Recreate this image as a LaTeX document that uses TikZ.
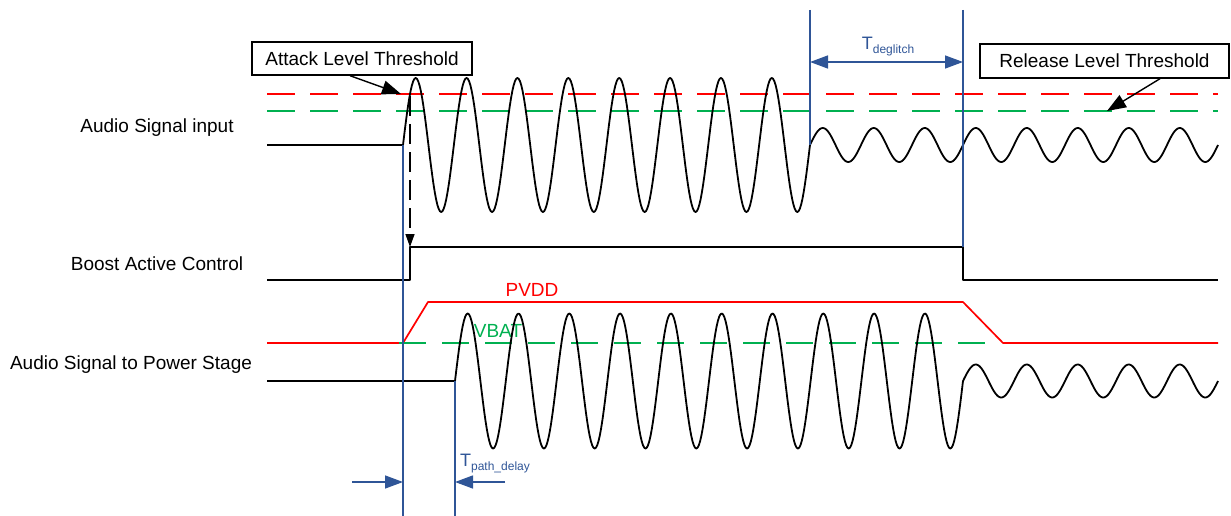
\documentclass[tikz,border=0pt]{standalone}
\usepackage{fontspec}
\setmainfont{Liberation Sans}
\usepackage{tikz}
\usetikzlibrary{positioning,arrows.meta}
\definecolor{dimblue}{RGB}{47,85,151}
\definecolor{thrred}{RGB}{255,0,0}
\definecolor{thrgreen}{RGB}{0,176,80}
\newcommand{\tlabel}[1]{{\fontsize{18}{20}\selectfont T}\raisebox{-4pt}{\fontsize{12}{14}\selectfont #1}}
\tikzset{
  % --- waveforms -------------------------------------------------------------
  sig/.style={black,line width=1.8pt,line join=round},
  rail/.style={thrred,line width=1.7pt,line join=round},
  atkthr/.style={thrred,line width=1.7pt,dash pattern=on 28pt off 15pt},
  relthr/.style={thrgreen,line width=1.7pt,dash pattern=on 28pt off 15pt},
  vbatthr/.style={thrgreen,line width=1.7pt,dash pattern=on 27pt off 16pt},
  % --- labels and call-outs ---------------------------------------------------
  lab/.style={font=\fontsize{19}{22}\selectfont,inner sep=1pt},
  callout/.style={lab,draw,line width=1.4pt,inner sep=0pt},
  callarr/.style={-{Triangle[length=19pt,width=14pt]},line width=1.4pt},
  trigarr/.style={-{Triangle[length=13pt,width=9pt]},line width=1.4pt,
                  dash pattern=on 20pt off 8pt},
  % --- timing marks -----------------------------------------------------------
  tline/.style={dimblue,line width=1.4pt},
  dimarr/.style={-{Triangle[length=18pt,width=13pt]},dimblue,line width=1.4pt},
  dimarrs/.style={{Triangle[length=18pt,width=13pt]}-{Triangle[length=18pt,width=13pt]},
                  dimblue,line width=1.4pt},
  dimlab/.style={text=dimblue,inner sep=0pt},
}

\begin{document}
\begin{tikzpicture}[x=1pt,y=-1pt]
  \useasboundingbox (0,0) rectangle (1231,516);

  % --- row labels -------------------------------------------------------
  \node[lab] (lin)    at (157,128) {Audio Signal input};
  \node[lab] (lboost) at (157,264) {Boost Active Control};
  \node[lab] (lout)   at (131,365) {Audio Signal to Power Stage};

  % --- attack / release levels -------------------------------------------
  \coordinate (atk0) at (267,94);  \coordinate (atk1) at (1218,94);
  \coordinate (rel0) at (267,111); \coordinate (rel1) at (1218,111);
  \draw[atkthr] (atk0) -- (atk1);
  \draw[relthr] (rel0) -- (rel1);

  % --- input: quiet, loud burst, then small tone ---------------------------
  \coordinate (in0) at (267,145);
  \coordinate (in1) at (403,145);
  \draw[sig] (in0) -- (in1)
    -- plot[domain=403:810,samples=321] (\x,{145-67*sin((\x-403)/50.875*360)})
    -- plot[domain=810:1218,samples=321] (\x,{145-17*sin((\x-810)/51*360)});

  % --- boost enable ------------------------------------------------------
  \coordinate (bst0) at (267,280);
  \coordinate (bst1) at (410,280);
  \coordinate (bst2) at (410,247);
  \coordinate (bst3) at (963,247);
  \coordinate (bst4) at (963,280);
  \coordinate (bst5) at (1218,280);
  \draw[sig] (bst0) -- (bst1) -- (bst2) -- (bst3) -- (bst4) -- (bst5);

  % --- supply rails --------------------------------------------------------
  \coordinate (pv0) at (267,343);
  \coordinate (pv1) at (403,343);
  \coordinate (pv2) at (428,302);
  \coordinate (pv3) at (963,302);
  \coordinate (pv4) at (1003,343);
  \coordinate (pv5) at (1218,343);
  \draw[rail] (pv0) -- (pv1) -- (pv2) -- (pv3) -- (pv4) -- (pv5);
  \coordinate (vb0) at (399,343);
  \coordinate (vb1) at (985,343);
  \draw[vbatthr] (vb0) -- (vb1);
  \node[lab,text=thrred]   (pvdd) at (532,290) {PVDD};
  \node[lab,text=thrgreen] (vbat) at (498,331) {VBAT};

  % --- output to power stage -------------------------------------------------
  \coordinate (out0) at (267,381);
  \coordinate (out1) at (455,381);
  \draw[sig] (out0) -- (out1)
    -- plot[domain=455:963,samples=401] (\x,{381-67.5*sin((\x-455)/50.8*360)})
    -- plot[domain=963:1218,samples=201] (\x,{381-16.5*sin((\x-963)/51*360)});

  % --- call-outs --------------------------------------------------------------
  \node[callout,minimum width=220pt,minimum height=33pt] (attack) at (362,58.5)
    {Attack Level Threshold};
  \node[callout,minimum width=249pt,minimum height=34pt] (release) at (1104.5,61)
    {Release Level Threshold};
  \coordinate (atkhit) at (401,94);
  \coordinate (relhit) at (1107,111);
  \draw[callarr] ([xshift=-12pt]attack.south) -- (atkhit);
  \draw[callarr] ([xshift=55.5pt]release.south) -- (relhit);

  % attack crossing sets boost active
  \coordinate (trig0) at (410,96);
  \draw[trigarr] (trig0) -- (bst2);

  % --- timing marks -----------------------------------------------------------
  \coordinate (tA0) at (403,145); \coordinate (tA1) at (403,516);
  \coordinate (tB0) at (455,381); \coordinate (tB1) at (455,516);
  \coordinate (tC0) at (810,10);  \coordinate (tC1) at (810,145);
  \coordinate (tD0) at (963,10);
  \draw[tline] (tA0) -- (tA1);
  \draw[tline] (tB0) -- (tB1);
  \draw[tline] (tC0) -- (tC1);
  \draw[tline] (tD0) -- (bst3);

  % deglitch window
  \coordinate (dgL) at (810,62);
  \coordinate (dgR) at (963,62);
  \draw[dimarrs] (dgL) -- (dgR);
  \node[dimlab] (tdg) at (888,47) {\tlabel{deglitch}};

  % path delay
  \coordinate (pdL0) at (352,482); \coordinate (pdL1) at (403,482);
  \coordinate (pdR0) at (505,482); \coordinate (pdR1) at (455,482);
  \draw[dimarr] (pdL0) -- (pdL1);
  \draw[dimarr] (pdR0) -- (pdR1);
  \node[dimlab] (tpd) at (495,464) {\tlabel{path\_delay}};
\end{tikzpicture}
\end{document}
